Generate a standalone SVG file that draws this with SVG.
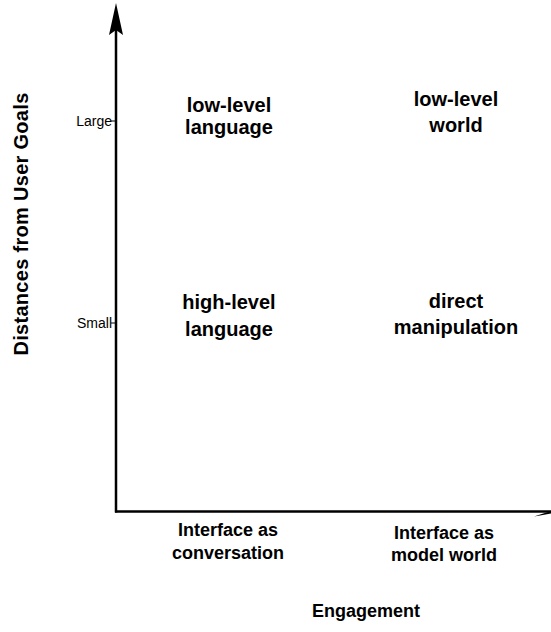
<svg xmlns="http://www.w3.org/2000/svg" width="551" height="632" viewBox="0 0 551 632">
<style>
.lbl{font-family:"Liberation Sans",Arial,Helvetica,sans-serif;font-weight:bold;fill:#000;text-anchor:middle}
.q{font-size:20px}
.b{font-size:18px}
.tick{font-family:"Liberation Sans",Arial,sans-serif;font-size:14px;fill:#000;text-anchor:end}
.ax{stroke:#000;stroke-width:2.5;fill:none}
</style>
<rect width="551" height="632" fill="#fff"/>
<g id="axes">
<line class="ax" x1="116" y1="28" x2="116" y2="512.5"/>
<polygon points="116,3 123,35 116,30 109,35" fill="#000"/>
<line class="ax" x1="115" y1="511.5" x2="551" y2="511.5"/>
<polygon points="534,516.5 551,511 551,513.5 540,515.5" fill="#000"/>
<line x1="111" y1="121" x2="116" y2="121" stroke="#000" stroke-width="1"/>
<line x1="111" y1="323" x2="116" y2="323" stroke="#000" stroke-width="1"/>
</g>
<g id="y-axis-label">
<text class="lbl" font-size="20" letter-spacing="0.3" transform="translate(28,224) rotate(-90)">Distances from User Goals</text>
<text class="tick" x="112" y="126">Large</text>
<text class="tick" x="112" y="328">Small</text>
</g>
<g id="low-level-language"><text class="lbl q" x="229" y="112">low-level</text><text class="lbl q" x="229" y="134">language</text></g>
<g id="low-level-world"><text class="lbl q" x="456" y="106">low-level</text><text class="lbl q" x="456" y="132">world</text></g>
<g id="high-level-language"><text class="lbl q" x="229" y="309">high-level</text><text class="lbl q" x="229" y="336">language</text></g>
<g id="direct-manipulation"><text class="lbl q" x="456" y="308">direct</text><text class="lbl q" x="456" y="334">manipulation</text></g>
<g id="x-axis-labels">
<text class="lbl b" x="228" y="536">Interface as</text>
<text class="lbl b" x="228" y="559">conversation</text>
<text class="lbl b" x="444" y="539">Interface as</text>
<text class="lbl b" x="444" y="561">model world</text>
<text class="lbl" font-size="18" x="366" y="617">Engagement</text>
</g>
</svg>
